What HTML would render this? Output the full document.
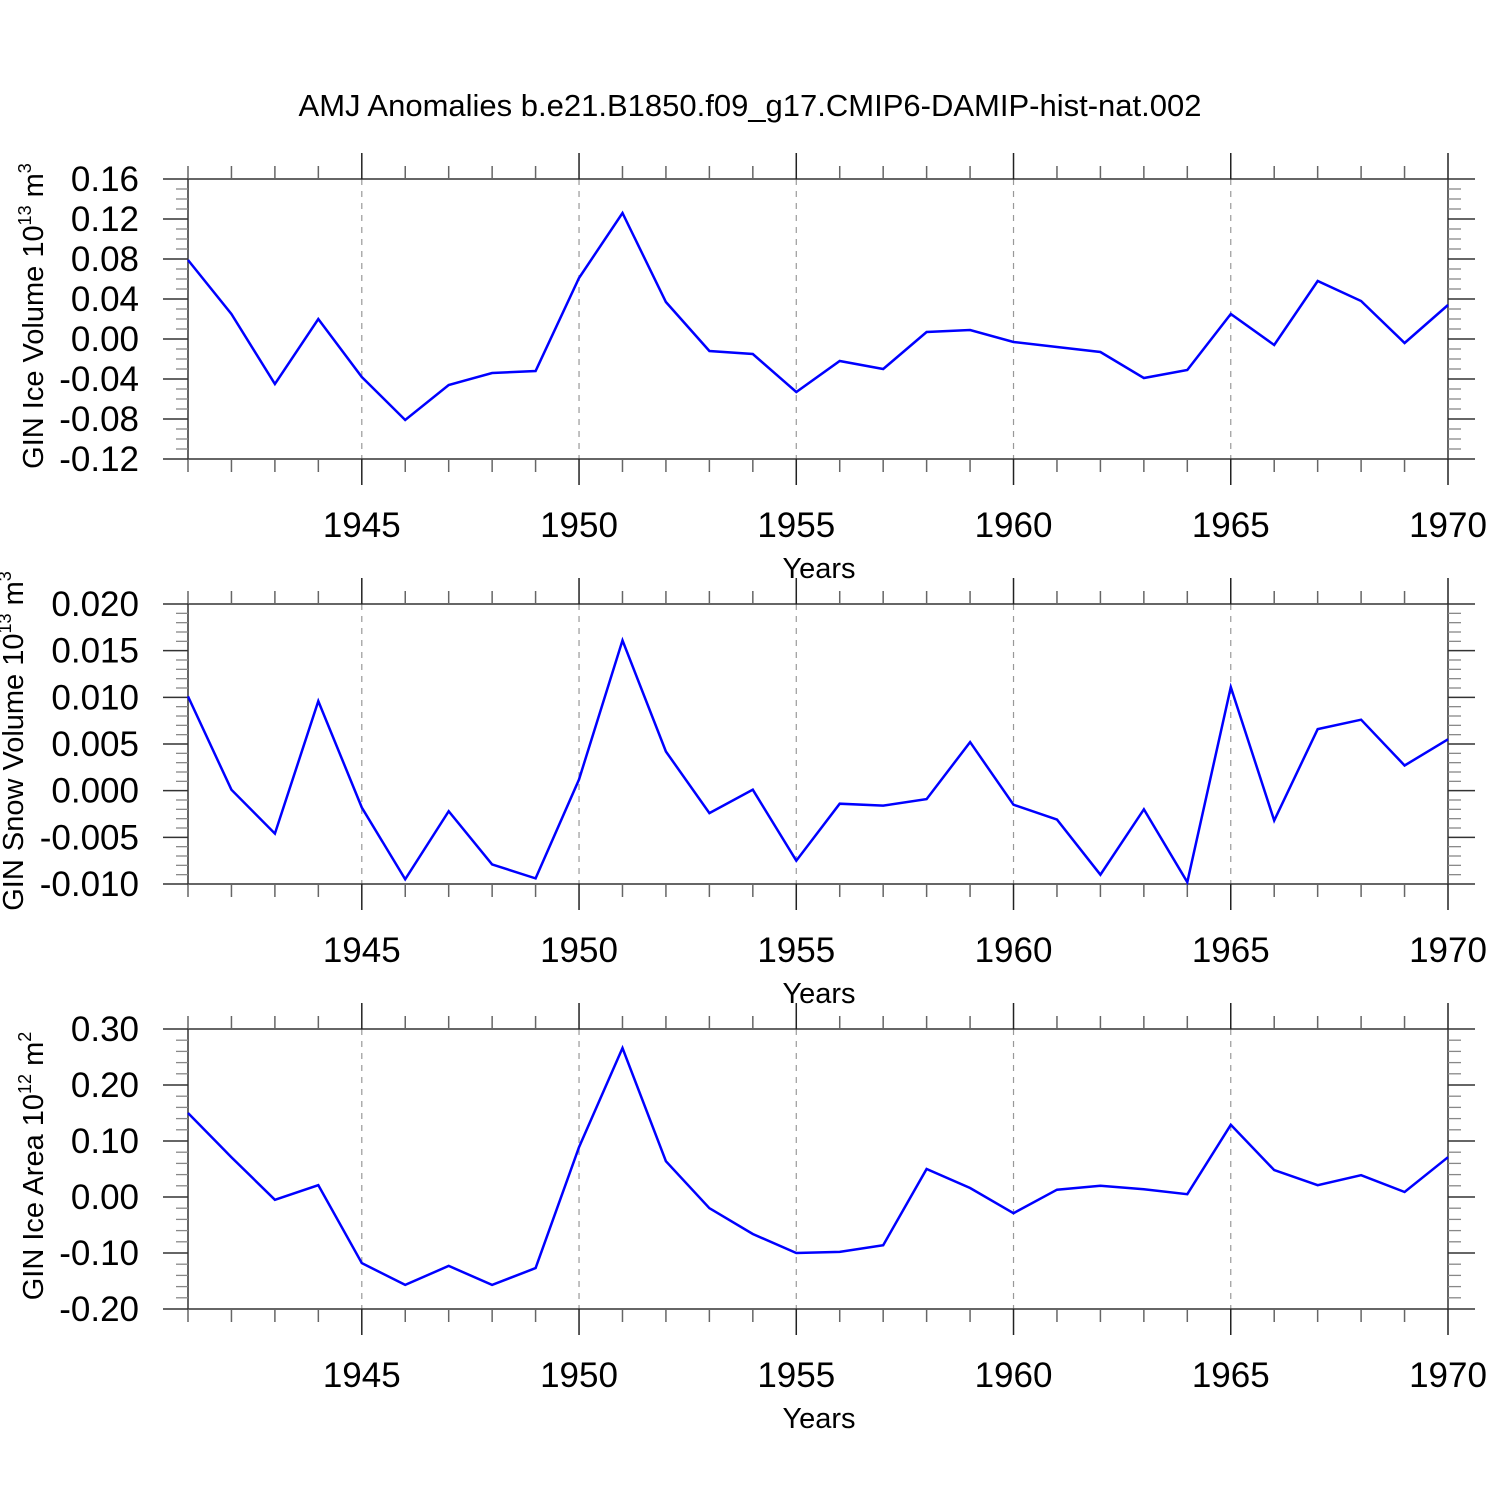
<!DOCTYPE html>
<html><head><meta charset="utf-8"><style>
html,body{margin:0;padding:0;background:#fff;}
svg{display:block;font-family:"Liberation Sans",sans-serif;}
</style></head><body>
<svg id="chart" width="1500" height="1500" viewBox="0 0 1500 1500" xmlns="http://www.w3.org/2000/svg">
<text x="750" y="116" font-size="31" text-anchor="middle">AMJ Anomalies b.e21.B1850.f09_g17.CMIP6-DAMIP-hist-nat.002</text>
</svg>
<script>
const years = [1941,1942,1943,1944,1945,1946,1947,1948,1949,1950,1951,1952,1953,1954,1955,1956,1957,1958,1959,1960,1961,1962,1963,1964,1965,1966,1967,1968,1969,1970];
const iceVolume = [0.079,0.025,-0.045,0.020,-0.038,-0.081,-0.046,-0.034,-0.032,0.061,0.126,0.037,-0.012,-0.015,-0.053,-0.022,-0.030,0.007,0.009,-0.003,-0.008,-0.013,-0.039,-0.031,0.025,-0.006,0.058,0.038,-0.004,0.034];
const snowVolume = [0.0101,0.0001,-0.0046,0.0096,-0.0018,-0.0095,-0.0022,-0.0079,-0.0094,0.0012,0.0161,0.0042,-0.0024,0.0001,-0.0075,-0.0014,-0.0016,-0.0009,0.0052,-0.0015,-0.0031,-0.0090,-0.0020,-0.0098,0.0111,-0.0032,0.0066,0.0076,0.0027,0.0055];
const iceArea = [0.150,0.071,-0.005,0.021,-0.118,-0.157,-0.123,-0.157,-0.127,0.089,0.266,0.064,-0.020,-0.066,-0.100,-0.098,-0.086,0.050,0.016,-0.029,0.013,0.020,0.014,0.005,0.129,0.048,0.021,0.039,0.009,0.071];
const xTickLabels = [1945,1950,1955,1960,1965,1970];
const iceVolTicks = ["0.16","0.12","0.08","0.04","0.00","-0.04","-0.08","-0.12"];
const snowVolTicks = ["0.020","0.015","0.010","0.005","0.000","-0.005","-0.010"];
const iceAreaTicks = ["0.30","0.20","0.10","0.00","-0.10","-0.20"];

const NS="http://www.w3.org/2000/svg";
const svg=document.getElementById('chart');
const X0=188,X1=1448,YMIN=1941,YMAX=1970;
function xs(y){return X0+(y-YMIN)/(YMAX-YMIN)*(X1-X0);}
function mk(tag,attrs,parent){const e=document.createElementNS(NS,tag);for(const k in attrs)e.setAttribute(k,attrs[k]);(parent||svg).appendChild(e);return e;}

const panels=[
 {name:'ice-volume',top:179,vals:iceVolume,ticks:iceVolTicks,minors:4,tx:43,title:'GIN Ice Volume 10',exp:'13',unit:'m',uexp:'3'},
 {name:'snow-volume',top:604,vals:snowVolume,ticks:snowVolTicks,minors:5,tx:23,title:'GIN Snow Volume 10',exp:'13',unit:'m',uexp:'3'},
 {name:'ice-area',top:1029,vals:iceArea,ticks:iceAreaTicks,minors:5,tx:43,title:'GIN Ice Area 10',exp:'12',unit:'m',uexp:'2'}
];
panels.forEach(p=>{
 const H=280,top=p.top,bot=top+H;
 const g=mk('g',{});
 
 
 const tv=p.ticks.map(Number);
 const vmax=tv[0],vmin=tv[tv.length-1];
 const ys=v=>top+(vmax-v)/(vmax-vmin)*H;
 xTickLabels.forEach(yr=>{
  if(yr===YMAX)return;
  const l=mk('line',{x1:xs(yr),x2:xs(yr),y1:top,y2:bot,stroke:'#999','stroke-width':1.2,'stroke-dasharray':'6,6'},g);
  
  
 });
 const fr=mk('rect',{x:X0,y:top,width:X1-X0,height:H,fill:'none',stroke:'#333','stroke-width':1.5},g);
 
 
 years.forEach(yr=>{
  const major=yr%5===0; const len=major?26:13; const x=xs(yr);
  mk('line',{x1:x,x2:x,y1:top,y2:top-len,stroke:major?'#222':'#666','stroke-width':1.5},g);
  mk('line',{x1:x,x2:x,y1:bot,y2:bot+len,stroke:major?'#222':'#666','stroke-width':1.5},g);
 });
 const step=(vmax-vmin)/(tv.length-1);
 for(let i=0;i<tv.length;i++){
  const y=ys(tv[i]);
  mk('line',{x1:X0-25,x2:X0,y1:y,y2:y,stroke:'#333','stroke-width':1.5},g);
  mk('line',{x1:X1,x2:X1+27,y1:y,y2:y,stroke:'#333','stroke-width':1.5},g);
  const t=mk('text',{x:139,y:y+12,'font-size':35,'text-anchor':'end'},g);
  t.textContent=p.ticks[i];
  
  
  if(i<tv.length-1){
   for(let m=1;m<p.minors;m++){
    const ym=ys(tv[i]-step*m/p.minors);
    mk('line',{x1:X0-12,x2:X0,y1:ym,y2:ym,stroke:'#888','stroke-width':1.3},g);
    mk('line',{x1:X1,x2:X1+13,y1:ym,y2:ym,stroke:'#888','stroke-width':1.3},g);
   }
  }
 }
 xTickLabels.forEach(yr=>{
  const t=mk('text',{x:xs(yr),y:bot+78,'font-size':35,'text-anchor':'middle'},g);
  t.textContent=yr;
  
  
 });
 const xt=mk('text',{x:819,y:bot+119,'font-size':29,'text-anchor':'middle'},g);
 xt.textContent='Years';
 
 
 const yt=mk('text',{transform:`translate(${p.tx},${top+H/2-3}) rotate(-90)`,'font-size':29,'text-anchor':'middle'},g);
 
 
 const s1=mk('tspan',{},yt); s1.textContent=p.title;
 const s2=mk('tspan',{dy:-12,'font-size':18},yt); s2.textContent=p.exp;
 const s3=mk('tspan',{dy:12},yt); s3.textContent=' '+p.unit;
 const s4=mk('tspan',{dy:-12,'font-size':18},yt); s4.textContent=p.uexp;
 const pts=years.map((yr,i)=>xs(yr).toFixed(1)+','+ys(p.vals[i]).toFixed(1)).join(' ');
 const pl=mk('polyline',{points:pts,fill:'none',stroke:'#0000ff','stroke-width':2.5,'stroke-linejoin':'miter'},g);
 
 
});
</script>
</body></html>
